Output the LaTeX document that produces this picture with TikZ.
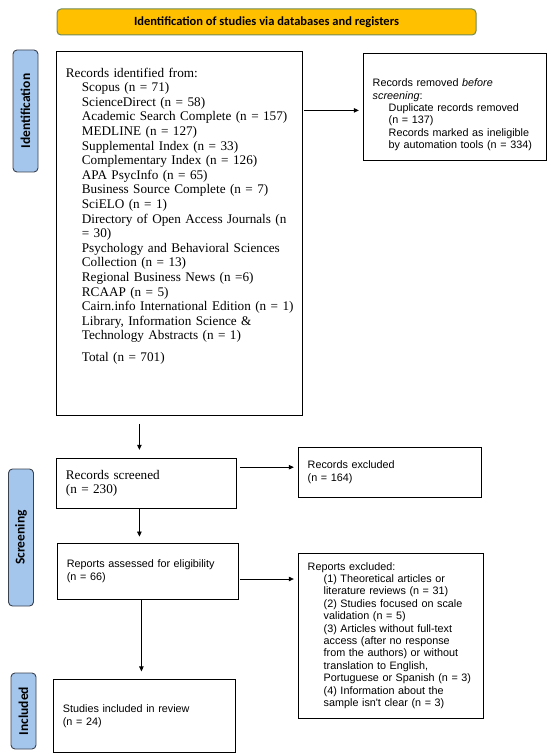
\documentclass[tikz,border=0pt]{standalone}
\usepackage{fontspec}
\setmainfont{Liberation Serif}
\newfontfamily\arialfont{Liberation Sans}
\newfontfamily\calfont{Carlito}
\usepackage{tikz}
\usetikzlibrary{arrows.meta,positioning,calc}
\definecolor{TitleGold}{RGB}{255,192,0}
\definecolor{TitleEdge}{RGB}{112,138,88}
\definecolor{PhaseBlue}{RGB}{164,198,236}
\definecolor{PhaseEdge}{RGB}{58,66,80}
\newcommand{\subin}{\hspace*{16pt}}

\begin{document}
\begin{tikzpicture}[x=1pt,y=-1pt,
 box/.style={draw,line width=0.8pt,inner xsep=9.5pt,inner ysep=0pt,
 align=left,anchor=north west},
 serifbox/.style={box,font=\fontsize{13.2}{14.6}\selectfont},
 sansbox/.style={box,font=\arialfont\fontsize{10.8}{12.4}\selectfont},
 phase/.style={draw=PhaseEdge,fill=PhaseBlue,line width=0.9pt,rounded corners=4pt,
 rotate=90,minimum height=25pt,inner sep=0pt,
 font=\calfont\bfseries\fontsize{13.5}{15}\selectfont},
 headbar/.style={draw=TitleEdge,fill=TitleGold,line width=1pt,rounded corners=4pt,
 minimum width=419pt,minimum height=26pt,inner sep=0pt,
 font=\calfont\bfseries\fontsize{12.5}{14}\selectfont},
 flow/.style={-{Triangle[length=5pt,width=4.5pt]},line width=0.7pt}]
\useasboundingbox (0,0) rectangle (550,754);
\node[headbar] (head) at (266.5,22) {Identification of studies via databases and registers};
% identification
\node[serifbox,text width=227pt,minimum height=364pt] (ident) at (56,51)
 {Records identified from:\\
 \subin Scopus (n = 71)\\
 \subin ScienceDirect (n = 58)\\
 \subin Academic Search Complete (n = 157)\\
 \subin MEDLINE (n = 127)\\
 \subin Supplemental Index (n = 33)\\
 \subin Complementary Index (n = 126)\\
 \subin APA PsycInfo (n = 65)\\
 \subin Business Source Complete (n = 7)\\
 \subin SciELO (n = 1)\\
 \subin Directory of Open Access Journals (n\\
 \subin = 30)\\
 \subin Psychology and Behavioral Sciences\\
 \subin Collection (n = 13)\\
 \subin Regional Business News (n =6)\\
 \subin RCAAP (n = 5)\\
 \subin \mbox{Cairn.info International Edition (n = 1)}\\
 \subin Library, Information Science \&\\
 \subin Technology Abstracts (n = 1)\\[7.4pt]
 \subin Total (n = 701)\rule[-37pt]{0pt}{0pt}};
\node[sansbox,text width=164pt,minimum height=107pt,right=60pt of ident.north east,
 anchor=north west,yshift=-2pt] (removed)
 {\rule{0pt}{24pt}Records removed \textit{before}\\
 \textit{screening}:\\
 \subin Duplicate records removed\\
 \subin (n = 137)\\
 \subin Records marked as ineligible\\
 \subin by automation tools (n = 334)};
% screening
\node[serifbox,text width=161pt,minimum height=50pt,below=42pt of ident.south west,
 anchor=north west] (screen) {Records screened\\(n = 230)};
\node[sansbox,text width=164pt,minimum height=50pt,right=61pt of screen.north east,
 anchor=north west,yshift=11pt] (excl) {Records excluded\\(n = 164)};
\node[sansbox,text width=162pt,minimum height=56pt,below=34pt of screen.south west,
 anchor=north west,xshift=1pt] (assessed) {Reports assessed for eligibility\\(n = 66)};
\node[sansbox,text width=166pt,minimum height=165pt,right=59pt of assessed.north east,
 anchor=north west,yshift=-10pt] (rexcl)
 {Reports excluded:\\
 \subin (1) Theoretical articles or\\
 \subin literature reviews (n = 31)\\
 \subin (2) Studies focused on scale\\
 \subin validation (n = 5)\\
 \subin (3) Articles without full-text\\
 \subin access (after no response\\
 \subin from the authors) or without\\
 \subin translation to English,\\
 \subin Portuguese or Spanish (n = 3)\\
 \subin (4) Information about the\\
 \subin sample isn't clear (n = 3)};
% included
\node[sansbox,text width=163pt,minimum height=73pt,below=80pt of assessed.south west,
 anchor=north west,xshift=-4pt] (studies) {Studies included in review\\(n = 24)};
% phase labels
\node[phase,minimum width=122pt] (idlab) at (25.5,111) {Identification};
\node[phase,minimum width=137pt] (scrlab) at (21,537.5) {Screening};
\node[phase,minimum width=76pt] (inclab) at (23.5,711) {Included};
% connectors
\coordinate (rmin) at ($(removed.west)+(0,3.5)$);
\coordinate (exin) at ($(excl.west)+(0,-5)$);
\coordinate (asout) at ($(assessed.east)+(0,8)$);
\draw[flow,shorten <=1pt,shorten >=4pt] (ident.east |- rmin) -- (rmin);
\draw[flow,shorten <=8pt,shorten >=8pt] ([xshift=-7pt]screen.north |- ident.south) -- ([xshift=-7pt]screen.north);
\draw[flow,shorten <=3pt,shorten >=4pt] (screen.east |- exin) -- (exin);
\draw[flow,shorten >=6pt] ([xshift=-7pt]screen.south) -- ([xshift=-7pt]screen.south |- assessed.north);
\draw[flow,shorten <=1pt,shorten >=4pt] (asout) -- (asout -| rexcl.west);
\draw[flow,shorten >=8pt] ([xshift=-6.5pt]assessed.south) -- ([xshift=-6.5pt]assessed.south |- studies.north);
\end{tikzpicture}
\end{document}
